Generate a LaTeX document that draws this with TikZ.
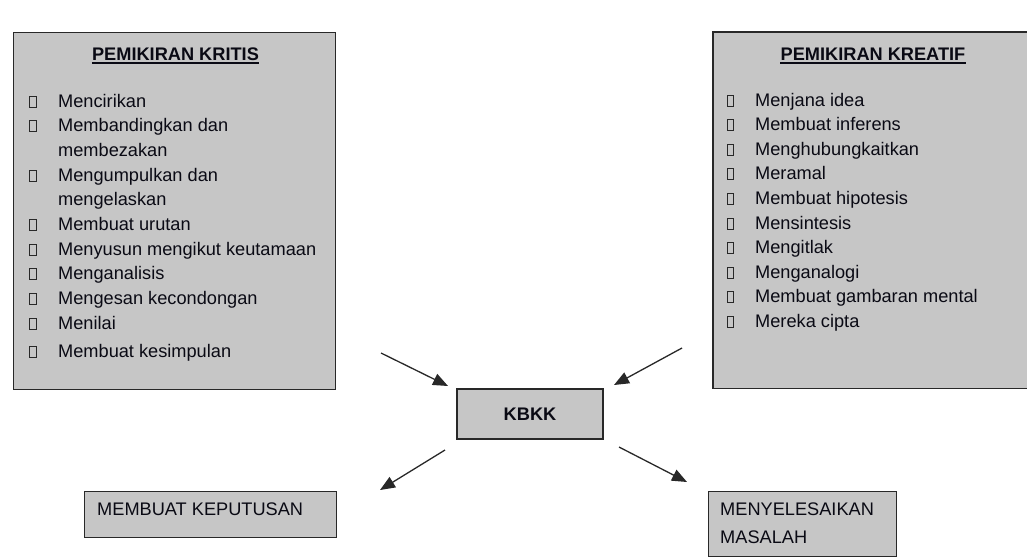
\documentclass[tikz,border=0pt]{standalone}
\usepackage{fontspec}
\setmainfont{Liberation Sans}
\usetikzlibrary{arrows.meta}
\definecolor{panelgray}{RGB}{198,198,198}
\definecolor{ink}{RGB}{10,10,20}
\definecolor{rimcol}{RGB}{40,40,40}

\begin{document}
\begin{tikzpicture}[x=1pt,y=-1pt,
  panel/.style={fill=panelgray, draw=rimcol, line width=1.3pt, inner sep=0pt},
  txt/.style={font=\fontsize{18.2}{24.7}\selectfont, text=ink, inner sep=0pt},
  heading/.style={font=\fontsize{18.2}{24.7}\selectfont\bfseries, text=ink, inner sep=0pt},
  tickbox/.style={draw=rimcol, line width=0.9pt},
  flow/.style={draw=rimcol, line width=1.3pt, -{Triangle[length=15pt,width=12pt]}}]

\useasboundingbox (0,0) rectangle (1027,558);

% ---------- critical thinking panel ----------
\node[panel, anchor=north west, minimum width=322pt, minimum height=357pt] (kritis) at (13,32) {};
\node[heading, anchor=base] (kritisT) at (175.5,60.5) {PEMIKIRAN KRITIS};
\draw[line width=1.6pt, ink] ([yshift=-2.6pt]kritisT.base west) -- ([yshift=-2.6pt]kritisT.base east);

\foreach \y/\t [count=\i] in {107/Mencirikan, 131.7/Membandingkan dan, 181.1/Mengumpulkan dan,
    230.5/Membuat urutan, 255.2/Menyusun mengikut keutamaan, 279.9/Menganalisis,
    304.6/Mengesan kecondongan, 329.3/Menilai, 357/Membuat kesimpulan}{
  \draw[tickbox] (29.5,\y) rectangle ++(6.5,-11);
  \node[txt, anchor=base west] (kr\i) at (58,\y) {\t};
}
\node[txt, anchor=base west] (krA) at (58,156.4) {membezakan};
\node[txt, anchor=base west] (krB) at (58,205.8) {mengelaskan};

% ---------- creative thinking panel (runs off the right edge) ----------
\node[fill=panelgray, inner sep=0pt, anchor=north west, minimum width=320pt, minimum height=356pt] (kreatif) at (713,32) {};
\draw[rimcol, line width=1.3pt] (kreatif.north east) -- (kreatif.north west) -- (kreatif.south west) -- (kreatif.south east);
\node[heading, anchor=base] (kreatifT) at (873,60.5) {PEMIKIRAN KREATIF};
\draw[line width=1.6pt, ink] ([yshift=-2.6pt]kreatifT.base west) -- ([yshift=-2.6pt]kreatifT.base east);

\foreach \t [count=\i] in {Menjana idea, Membuat inferens, Menghubungkaitkan, Meramal,
    Membuat hipotesis, Mensintesis, Mengitlak, Menganalogi, Membuat gambaran mental, Mereka cipta}{
  \pgfmathsetmacro{\yy}{106+24.6*(\i-1)}
  \draw[tickbox] (727,\yy) rectangle ++(6.5,-11);
  \node[txt, anchor=base west] (ke\i) at (755,\yy) {\t};
}

% ---------- centre ----------
\node[panel, minimum width=146pt, minimum height=50pt] (kbkk) at (530,414) {};
\node[heading, anchor=base] (kbkkT) at (530,420.5) {KBKK};

% ---------- outcomes ----------
\node[panel, anchor=north west, minimum width=252pt, minimum height=46pt] (putus) at (84,491) {};
\node[txt, anchor=base west] (putusT) at (97,515.6) {MEMBUAT KEPUTUSAN};

\node[panel, anchor=north west, minimum width=188pt, minimum height=65pt] (masalah) at (708,491) {};
\node[txt, anchor=base west] (masalahT1) at (720,515.6) {MENYELESAIKAN};
\node[txt, anchor=base west] (masalahT2) at (720,543.3) {MASALAH};

% ---------- arrows ----------
\coordinate (a1s) at (381,353);  \coordinate (a1e) at (448,386);
\coordinate (a2s) at (682,348);  \coordinate (a2e) at (614,385);
\coordinate (a3s) at (445,450);  \coordinate (a3e) at (380,490);
\coordinate (a4s) at (619,447);  \coordinate (a4e) at (687,482);
\draw[flow] (a1s) -- (a1e);
\draw[flow] (a2s) -- (a2e);
\draw[flow] (a3s) -- (a3e);
\draw[flow] (a4s) -- (a4e);
\end{tikzpicture}
\end{document}
